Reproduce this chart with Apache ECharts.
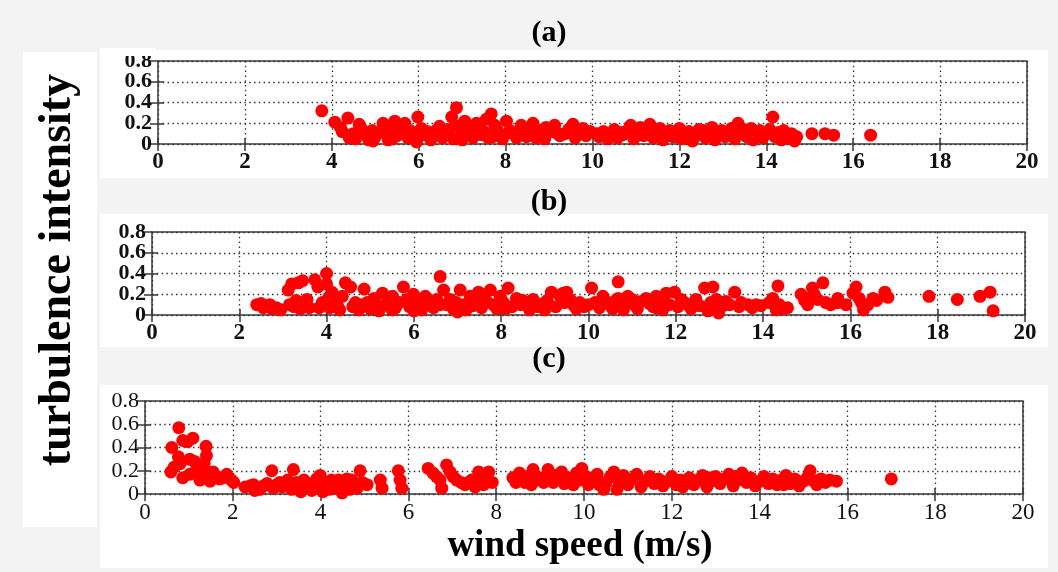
<!DOCTYPE html>
<html>
<head>
<meta charset="utf-8">
<script src="https://cdn.jsdelivr.net/npm/echarts@6/dist/echarts.min.js"></script>
<style>html,body{margin:0;padding:0;background:#f3f3f3;}#main{width:1058px;height:572px;}</style>
</head>
<body>
<div id="main"></div>
<script>
const panelTitles = ['(a)', '(b)', '(c)'];
const xTitle = 'wind speed (m/s)';
const yTitle = 'turbulence intensity';
const xMin = 0, xMax = 20, xStep = 2;
const yMin = 0, yMax = 0.8, yStep = 0.2;

const pointsA = [
[3.77,0.32],[4.07,0.21],[4.2,0.16],[4.37,0.25],[4.24,0.12],[4.49,0.1],[4.55,0.05],[4.63,0.19],[4.7,0.14],[4.78,0.09],
[4.85,0.04],[4.93,0.13],[5.0,0.07],[5.08,0.11],[5.18,0.2],[5.25,0.1],[5.3,0.04],[5.35,0.15],[5.45,0.22],[5.5,0.08],
[5.57,0.15],[5.63,0.11],[5.68,0.2],[5.75,0.06],[5.87,0.07],[5.98,0.26],[5.95,0.02],[6.06,0.15],[6.12,0.09],[6.2,0.12],
[6.28,0.04],[6.33,0.07],[6.4,0.13],[6.48,0.17],[6.55,0.06],[6.63,0.1],[6.7,0.14],[6.76,0.26],[6.8,0.05],[6.87,0.35],
[6.91,0.17],[6.98,0.08],[7.06,0.22],[7.12,0.13],[7.18,0.11],[7.25,0.06],[7.33,0.2],[7.4,0.15],[7.45,0.09],[7.5,0.12],
[7.56,0.24],[7.6,0.06],[7.67,0.29],[7.75,0.18],[7.8,0.14],[7.86,0.1],[7.93,0.05],[8.02,0.22],[8.1,0.13],[8.17,0.1],
[8.25,0.06],[8.36,0.18],[8.42,0.12],[8.48,0.07],[8.56,0.1],[8.63,0.2],[8.7,0.06],[8.78,0.13],[8.85,0.09],[8.93,0.16],
[9.05,0.12],[9.13,0.18],[9.25,0.08],[9.36,0.1],[9.45,0.14],[9.55,0.19],[9.6,0.06],[9.66,0.09],[9.78,0.15],[9.85,0.08],
[10.15,0.07],[10.25,0.12],[10.35,0.05],[10.42,0.1],[10.5,0.14],[10.58,0.06],[10.7,0.09],[10.8,0.13],[10.88,0.18],[10.95,0.05],
[11.02,0.11],[11.1,0.16],[11.18,0.08],[11.25,0.13],[11.32,0.19],[11.4,0.06],[11.48,0.11],[11.55,0.15],[11.62,0.04],[11.7,0.09],
[11.78,0.13],[11.85,0.07],[11.92,0.11],[12.0,0.15],[12.07,0.05],[12.15,0.09],[12.22,0.12],[12.3,0.03],[12.38,0.08],[12.45,0.14],
[12.52,0.1],[12.6,0.06],[12.68,0.12],[12.75,0.16],[12.82,0.04],[12.9,0.09],[12.97,0.13],[13.05,0.07],[13.12,0.11],[13.2,0.15],
[13.28,0.05],[13.35,0.2],[13.4,0.1],[13.48,0.14],[13.55,0.07],[13.62,0.12],[13.7,0.04],[13.78,0.09],[13.85,0.13],[13.92,0.06],
[14.0,0.1],[14.08,0.14],[14.15,0.26],[14.2,0.07],[14.28,0.11],[14.35,0.04],[14.42,0.09],[14.5,0.06],[14.58,0.1],[14.65,0.03],
[14.7,0.07],[15.05,0.1],[15.35,0.1],[15.55,0.085],[16.4,0.085],
[4.4,0.06],[4.95,0.03],[5.4,0.05],[5.8,0.13],[6.45,0.09],[7.0,0.04],[7.3,0.09],[7.7,0.07],[8.3,0.1],[8.9,0.05],
[9.2,0.1],[9.95,0.12],[10.1,0.1],[10.65,0.11],[11.3,0.09],[11.95,0.07],[12.55,0.13],[13.15,0.08],[13.65,0.15],[14.4,0.13]
];

const pointsB = [
[2.4,0.1],[2.5,0.11],[2.55,0.07],[2.62,0.09],[2.7,0.1],[2.75,0.06],[2.85,0.07],[2.95,0.05],
[3.12,0.24],[3.15,0.1],[3.2,0.3],[3.25,0.08],[3.3,0.14],[3.35,0.31],[3.4,0.06],[3.45,0.33],[3.5,0.1],[3.55,0.15],[3.6,0.07],
[3.73,0.34],[3.8,0.27],[3.83,0.07],[3.9,0.12],[4.0,0.4],[4.0,0.3],[4.05,0.17],[4.07,0.07],[4.12,0.22],[4.18,0.11],[4.3,0.05],
[4.36,0.18],[4.43,0.31],[4.55,0.27],[4.6,0.08],[4.66,0.12],[4.74,0.05],[4.8,0.1],[4.86,0.25],[4.93,0.12],[5.0,0.06],
[5.09,0.16],[5.15,0.1],[5.2,0.04],[5.28,0.21],[5.36,0.1],[5.42,0.14],[5.51,0.18],[5.58,0.07],[5.65,0.12],[5.76,0.27],
[5.84,0.15],[5.9,0.08],[5.99,0.2],[6.05,0.12],[6.1,0.08],[6.18,0.05],[6.26,0.18],[6.32,0.1],[6.37,0.13],[6.45,0.07],
[6.52,0.15],[6.6,0.37],[6.68,0.24],[6.75,0.1],[6.83,0.15],[6.9,0.06],[6.97,0.12],[7.06,0.24],[7.13,0.1],[7.2,0.05],
[7.29,0.18],[7.35,0.09],[7.42,0.13],[7.48,0.22],[7.55,0.07],[7.67,0.13],[7.75,0.24],[7.82,0.1],[7.9,0.06],[7.98,0.18],
[8.05,0.12],[8.16,0.26],[8.25,0.08],[8.35,0.16],[8.45,0.1],[8.58,0.11],[8.65,0.05],[8.73,0.15],[8.85,0.08],[8.96,0.11],
[9.05,0.14],[9.15,0.22],[9.25,0.08],[9.34,0.19],[9.42,0.21],[9.5,0.22],[9.58,0.15],[9.65,0.1],[9.72,0.06],[9.8,0.12],
[9.9,0.08],[10.07,0.26],[10.15,0.12],[10.25,0.07],[10.33,0.18],[10.4,0.13],[10.48,0.1],[10.55,0.06],[10.62,0.14],[10.68,0.32],
[10.68,0.16],[10.75,0.09],[10.8,0.05],[10.9,0.18],[10.97,0.12],[11.05,0.1],[11.12,0.06],[11.2,0.13],[11.32,0.16],[11.4,0.11],
[11.48,0.08],[11.55,0.18],[11.55,0.07],[11.65,0.13],[11.78,0.21],[11.85,0.1],[11.97,0.22],[12.05,0.08],[12.12,0.15],[12.2,0.12],
[12.27,0.1],[12.35,0.06],[12.46,0.15],[12.55,0.09],[12.66,0.26],[12.74,0.04],[12.8,0.12],[12.85,0.27],[12.93,0.15],[12.98,0.02],
[13.08,0.09],[13.15,0.13],[13.23,0.1],[13.35,0.22],[13.45,0.08],[13.65,0.1],[13.75,0.07],[13.84,0.1],[13.95,0.09],[14.14,0.12],
[14.22,0.16],[14.34,0.28],[14.37,0.1],[14.45,0.06],[14.56,0.07],[14.87,0.2],[14.95,0.14],[15.02,0.1],[15.13,0.26],[15.17,0.2],
[15.25,0.15],[15.37,0.31],[15.44,0.12],[15.55,0.1],[15.71,0.16],[15.71,0.12],[16.06,0.21],[16.13,0.27],[16.2,0.16],[16.25,0.12],
[16.3,0.05],[16.4,0.1],[16.52,0.16],[16.6,0.14],[16.79,0.22],[16.86,0.17],[17.8,0.18],[18.45,0.15],[18.97,0.18],[19.2,0.22],[19.27,0.04],
[3.95,0.12],[4.25,0.09],[5.5,0.05],[6.0,0.04],[6.6,0.1],[7.0,0.03],[7.6,0.16],[8.1,0.06],[8.5,0.14],[9.0,0.05],
[9.45,0.12],[10.0,0.1],[11.0,0.15],[11.7,0.05],[12.4,0.11],[13.0,0.06],[13.5,0.12],[14.3,0.05],[15.0,0.16],[15.9,0.1]
];

const pointsC = [
[0.61,0.4],[0.77,0.57],[0.59,0.19],[0.66,0.23],[0.76,0.32],[0.8,0.26],[0.86,0.46],[0.97,0.45],[1.09,0.48],[1.02,0.3],
[1.13,0.28],[0.86,0.14],[1.02,0.17],[1.17,0.21],[1.39,0.41],[1.4,0.33],[1.32,0.22],[1.25,0.12],[1.35,0.26],[1.45,0.16],
[1.55,0.19],[1.48,0.11],[1.63,0.15],[1.7,0.13],[1.78,0.14],[1.86,0.17],[1.97,0.12],[2.02,0.1],
[2.28,0.06],[2.4,0.07],[2.47,0.08],[2.55,0.05],[2.62,0.04],[2.7,0.07],[2.78,0.09],[2.89,0.2],[2.92,0.05],[3.0,0.08],
[3.07,0.1],[3.12,0.06],[3.19,0.08],[3.25,0.12],[3.34,0.04],[3.38,0.21],[3.45,0.1],[3.5,0.07],[3.57,0.05],[3.62,0.12],
[3.68,0.09],[3.75,0.06],[3.8,0.03],[3.86,0.1],[3.91,0.13],[3.99,0.16],[4.02,0.06],[4.08,0.11],[4.14,0.09],[4.2,0.04],
[4.25,0.12],[4.3,0.05],[4.36,0.08],[4.41,0.12],[4.49,0.01],[4.55,0.1],[4.6,0.08],[4.66,0.04],[4.71,0.12],[4.77,0.07],
[4.83,0.05],[4.9,0.2],[4.95,0.1],[5.06,0.08],[5.36,0.12],[5.4,0.05],[5.77,0.2],[5.81,0.12],[5.85,0.05],
[6.45,0.22],[6.56,0.18],[6.64,0.15],[6.72,0.12],[6.76,0.05],[6.87,0.25],[6.95,0.19],[7.02,0.15],[7.1,0.12],[7.2,0.1],
[7.29,0.08],[7.37,0.1],[7.44,0.12],[7.52,0.06],[7.6,0.19],[7.65,0.1],[7.71,0.08],[7.78,0.13],[7.83,0.19],[7.91,0.1],
[8.38,0.14],[8.45,0.1],[8.53,0.18],[8.6,0.13],[8.65,0.1],[8.72,0.15],[8.84,0.21],[8.9,0.12],[8.99,0.14],[9.08,0.1],
[9.18,0.21],[9.24,0.15],[9.3,0.1],[9.4,0.13],[9.49,0.19],[9.55,0.09],[9.62,0.14],[9.68,0.12],[9.76,0.08],[9.83,0.18],
[9.9,0.12],[9.95,0.22],[10.05,0.15],[10.1,0.08],[10.2,0.12],[10.3,0.17],[10.45,0.04],[10.5,0.1],[10.6,0.15],[10.68,0.19],
[10.75,0.04],[10.8,0.11],[10.9,0.16],[11.0,0.08],[11.1,0.13],[11.2,0.17],[11.3,0.06],[11.4,0.11],[11.5,0.15],[11.6,0.09],
[11.7,0.13],[11.8,0.07],[11.9,0.11],[12.0,0.15],[12.1,0.08],[12.2,0.12],[12.3,0.1],[12.4,0.14],[12.5,0.08],[12.6,0.12],
[12.7,0.16],[12.8,0.06],[12.9,0.11],[13.0,0.15],[13.1,0.09],[13.2,0.13],[13.3,0.17],[13.4,0.07],[13.5,0.12],[13.6,0.18],
[13.7,0.1],[13.8,0.14],[13.9,0.07],[14.0,0.11],[14.1,0.15],[14.2,0.09],[14.3,0.13],[14.4,0.08],[14.5,0.12],[14.6,0.16],
[14.7,0.09],[14.8,0.13],[14.9,0.07],[15.0,0.11],[15.15,0.2],[15.2,0.12],[15.3,0.08],[15.4,0.13],[15.5,0.1],[15.6,0.12],
[15.75,0.11],[17.0,0.13],
[2.5,0.03],[3.3,0.09],[3.55,0.02],[3.95,0.09],[4.05,0.02],[4.45,0.04],[4.6,0.13],[8.8,0.08],[9.35,0.16],[10.35,0.08],
[10.95,0.12],[11.55,0.12],[12.25,0.06],[12.85,0.14],[13.45,0.15],[13.95,0.1],[14.55,0.08],[15.1,0.15]
];

const panels = [pointsA, pointsB, pointsC];
const layout = [
  {left: 158, top: 61, width: 869, height: 83, bold: true, titleY: 33},
  {left: 152, top: 232, width: 873, height: 83, bold: true, titleY: 202},
  {left: 145, top: 401, width: 878, height: 93, bold: false, titleY: 359}
];
const FONT = 'Liberation Serif';
const lineColor = '#3a3a3a';

const grid = [], xAxis = [], yAxis = [], series = [];
layout.forEach((L, i) => {
  grid.push({left: L.left, top: L.top, width: L.width, height: L.height,
    show: true, backgroundColor: '#fff', borderColor: lineColor, borderWidth: 1.5});
  const lbl = {color: '#111', fontFamily: FONT, fontSize: 23, fontWeight: L.bold ? 'bold' : 'normal', hideOverlap: false};
  const ylbl = Object.assign({}, lbl, {fontSize: 22, margin: 6});
  const split = {show: true, lineStyle: {color: '#333', width: 1.3, type: [1.5, 3.3]}};
  const tick = (len) => ({show: true, inside: true, length: len, lineStyle: {color: lineColor, width: 1.5}});
  xAxis.push({type: 'value', gridIndex: i, min: xMin, max: xMax, interval: xStep, position: 'bottom',
    axisLine: {show: false}, axisTick: tick(6),
    axisLabel: Object.assign({margin: 7, showMinLabel: true, showMaxLabel: true}, lbl), splitLine: split});
  xAxis.push({type: 'value', gridIndex: i, min: xMin, max: xMax, interval: xStep, position: 'top',
    axisLine: {show: false}, axisTick: tick(7), axisLabel: {show: false}, splitLine: {show: false}});
  // main left axis: ticks, grid lines, inner labels
  yAxis.push({type: 'value', gridIndex: i, min: yMin, max: yMax, interval: yStep, position: 'left',
    axisLine: {show: false}, axisTick: tick(6),
    axisLabel: Object.assign({showMinLabel: false, showMaxLabel: false}, ylbl), splitLine: split});
  // right axis: ticks only
  yAxis.push({type: 'value', gridIndex: i, min: yMin, max: yMax, interval: yStep, position: 'right',
    axisLine: {show: false}, axisTick: tick(8), axisLabel: {show: false}, splitLine: {show: false}});
  // extra left axis: labels at the two ends (0 and 0.8)
  yAxis.push({type: 'value', gridIndex: i, min: yMin, max: yMax, interval: yMax - yMin, position: 'left', offset: 0,
    axisLine: {show: false}, axisTick: {show: false},
    axisLabel: Object.assign({showMinLabel: true, showMaxLabel: true}, ylbl), splitLine: {show: false}});
  series.push({type: 'scatter', xAxisIndex: 2 * i, yAxisIndex: 3 * i, data: panels[i],
    symbol: 'circle', symbolSize: 13, itemStyle: {color: '#ff0000', opacity: 1}, silent: true, animation: false});
});

const graphic = [
  {type: 'rect', z: -100, shape: {x: 23, y: 52, width: 74, height: 475}, style: {fill: '#fff'}},
  {type: 'rect', z: -100, shape: {x: 100, y: 50, width: 948, height: 128}, style: {fill: '#fff'}},
  {type: 'rect', z: -100, shape: {x: 100, y: 214, width: 948, height: 133}, style: {fill: '#fff'}},
  {type: 'rect', z: -100, shape: {x: 100, y: 385, width: 948, height: 183}, style: {fill: '#fff'}},
  {type: 'rect', z: 100, shape: {x: 100, y: 48, width: 56, height: 8}, style: {fill: '#fff'}},
  {type: 'text', x: 58, y: 270, rotation: Math.PI / 2,
    style: {text: yTitle, font: 'bold 46px "Liberation Serif"', fill: '#000', textAlign: 'center', textVerticalAlign: 'middle'}},
  {type: 'text', x: 580, y: 546,
    style: {text: xTitle, font: 'bold 37px "Liberation Serif"', fill: '#000', textAlign: 'center', textVerticalAlign: 'middle'}}
];
layout.forEach((L, i) => {
  graphic.push({type: 'text', x: 549, y: L.titleY,
    style: {text: panelTitles[i], font: 'bold 30px "Liberation Serif"', fill: '#000', textAlign: 'center', textVerticalAlign: 'middle'}});
});

const chart = echarts.init(document.getElementById('main'), null, {renderer: 'canvas'});
chart.setOption({backgroundColor: '#f3f3f3', animation: false, grid, xAxis, yAxis, series, graphic});
</script>
</body>
</html>
